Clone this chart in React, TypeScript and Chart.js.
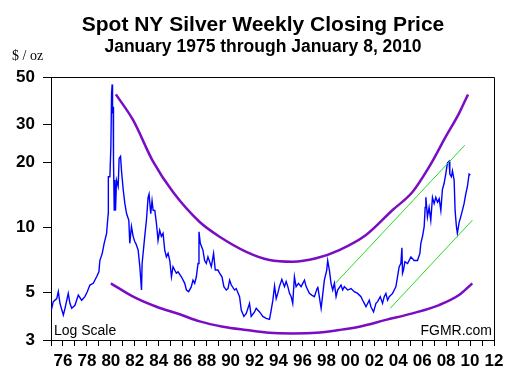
import { useEffect, useRef } from 'react';
import { Chart, registerables } from 'chart.js';
Chart.register(...registerables);

// Weekly closing price, decimal year / $ per oz
const years = [
  1975.03, 1975.19, 1975.48, 1975.61, 1975.75, 1976.03, 1976.17, 1976.44, 1976.58, 1976.73,
  1977.0, 1977.28, 1977.56, 1977.83, 1978.03, 1978.25, 1978.53, 1978.81, 1979.0, 1979.08,
  1979.28, 1979.44, 1979.64, 1979.73, 1979.78, 1979.79, 1979.92, 1980.0, 1980.06, 1980.11,
  1980.14, 1980.19, 1980.22, 1980.28, 1980.33, 1980.39, 1980.47, 1980.61, 1980.69, 1980.81,
  1980.89, 1981.03, 1981.17, 1981.31, 1981.5, 1981.58, 1981.72, 1981.86, 1982.0, 1982.08,
  1982.28, 1982.42, 1982.56, 1982.61, 1982.83, 1982.97, 1983.11, 1983.19, 1983.33, 1983.44,
  1983.53, 1983.67, 1983.81, 1983.94, 1984.08, 1984.22, 1984.36, 1984.5, 1984.64, 1984.78,
  1984.92, 1985.06, 1985.19, 1985.33, 1985.47, 1985.61, 1985.89, 1986.17, 1986.31, 1986.5,
  1986.72, 1986.86, 1987.0, 1987.14, 1987.28, 1987.36, 1987.47, 1987.69, 1987.83, 1987.97,
  1988.11, 1988.39, 1988.58, 1988.72, 1988.94, 1989.08, 1989.28, 1989.44, 1989.64, 1989.78,
  1989.92, 1990.06, 1990.33, 1990.47, 1990.75, 1990.89, 1991.11, 1991.31, 1991.58, 1991.72,
  1992.0, 1992.14, 1992.42, 1992.69, 1992.97, 1993.25, 1993.39, 1993.53, 1993.67, 1993.81,
  1993.94, 1994.08, 1994.28, 1994.5, 1994.64, 1994.78, 1994.92, 1995.06, 1995.19, 1995.33,
  1995.47, 1995.67, 1995.89, 1996.17, 1996.31, 1996.58, 1996.78, 1997.0, 1997.22, 1997.28,
  1997.56, 1997.69, 1997.83, 1998.03, 1998.11, 1998.25, 1998.39, 1998.53, 1998.67, 1998.81,
  1998.94, 1999.22, 1999.36, 1999.5, 1999.78, 2000.06, 2000.33, 2000.61, 2000.89, 2001.03,
  2001.17, 2001.31, 2001.58, 2001.72, 2001.94, 2002.14, 2002.28, 2002.5, 2002.69, 2002.83,
  2002.97, 2003.11, 2003.25, 2003.53, 2003.67, 2003.81, 2003.94, 2004.08, 2004.22, 2004.31,
  2004.36, 2004.44, 2004.56, 2004.78, 2005.06, 2005.33, 2005.61, 2005.81, 2005.89, 2006.03,
  2006.17, 2006.25, 2006.31, 2006.44, 2006.58, 2006.72, 2006.86, 2007.0, 2007.14, 2007.28,
  2007.42, 2007.56, 2007.69, 2007.83, 2007.97, 2008.11, 2008.25, 2008.31, 2008.44, 2008.53,
  2008.67, 2008.75, 2008.86, 2008.94, 2009.08, 2009.22, 2009.36, 2009.5, 2009.64, 2009.78,
  2009.92, 2010.02,
];
const prices = [
  4.13, 4.52, 4.67, 5.03, 4.44, 3.92, 4.21, 4.94, 4.44, 4.21,
  4.35, 4.85, 4.59, 4.77, 5.03, 5.40, 5.50, 5.90, 6.22, 7.02,
  7.58, 8.44, 9.35, 10.8, 11.6, 17.2, 17.2, 23.7, 42.0, 46.2,
  33.9, 36.4, 20.6, 12.05, 16.6, 12.0, 16.6, 15.5, 20.9, 21.4,
  18.3, 15.0, 12.9, 11.6, 10.8, 8.44, 10.1, 9.09, 8.58, 8.44,
  7.85, 6.57, 5.12, 6.8, 9.09, 10.8, 13.8, 14.3, 11.6, 13.3,
  12.0, 12.0, 10.4, 8.7, 9.7, 9.09, 9.4, 7.85, 7.3, 7.58,
  7.02, 5.9, 6.57, 6.34, 6.13, 6.22, 5.9, 5.5, 5.12, 5.03,
  5.31, 5.69, 5.5, 5.9, 6.8, 9.54, 8.44, 7.85, 7.02, 6.8,
  7.3, 6.57, 7.58, 6.34, 6.34, 6.13, 5.9, 5.31, 5.12, 5.2,
  5.69, 5.4, 5.12, 5.2, 4.77, 4.13, 3.86, 3.99, 4.44, 3.86,
  4.05, 4.21, 4.05, 3.86, 3.78, 3.74, 4.13, 4.59, 5.35, 4.67,
  4.94, 5.31, 5.74, 5.31, 5.61, 5.31, 4.94, 4.77, 4.44, 5.9,
  5.31, 5.5, 5.31, 5.69, 5.31, 4.94, 4.85, 4.77, 5.2, 5.31,
  4.21, 4.85, 5.69, 6.34, 7.02, 6.34, 5.5, 5.12, 5.5, 4.77,
  5.12, 5.4, 5.12, 5.31, 5.12, 5.2, 5.03, 4.94, 4.77, 4.59,
  4.44, 4.28, 4.59, 4.28, 4.05, 4.44, 4.52, 4.77, 4.44, 4.77,
  4.94, 4.59, 4.77, 4.94, 5.12, 5.31, 5.9, 6.57, 6.8, 8.04,
  6.13, 6.34, 6.93, 6.8, 7.3, 7.02, 7.02, 7.58, 8.44, 9.09,
  10.1, 12.4, 13.8, 11.2, 12.4, 10.8, 13.8, 12.9, 13.8, 13.1,
  13.6, 12.0, 15.0, 16.0, 17.7, 19.9, 20.3, 17.7, 17.2, 18.3,
  16.6, 12.0, 10.1, 9.4, 10.5, 11.2, 12.0, 12.9, 14.3, 15.5,
  17.7, 17.5,
];

// Upper and lower purple channel curves
const upperYears = [1980.42, 1981.86, 1983.53, 1985.19, 1987.42, 1989.08, 1991.31, 1993.25, 1995.19, 1997.14, 1999.08, 2001.31, 2003.53, 2005.19, 2006.58, 2007.97, 2009.08, 2009.83];
const upperVals = [41.5, 31.5, 20.2, 14.6, 10.6, 9.06, 7.71, 7.06, 6.93, 7.19, 7.85, 9.22, 12.05, 14.6, 19.1, 26.4, 33.9, 41.5];
const lowerYears = [1980.0, 1981.86, 1983.81, 1985.75, 1987.42, 1989.36, 1991.31, 1993.25, 1995.19, 1997.14, 1999.08, 2000.75, 2002.97, 2005.19, 2007.42, 2009.08, 2010.19];
const lowerVals = [5.5, 4.77, 4.28, 3.95, 3.66, 3.46, 3.34, 3.24, 3.22, 3.24, 3.34, 3.46, 3.72, 3.99, 4.36, 4.85, 5.5];

// Green trend channel lines
const greenUpYears = [1998.75, 2009.56];
const greenUpVals = [5.5, 24.1];
const greenLowYears = [2003.33, 2010.19];
const greenLowVals = [4.21, 10.8];

const yTicks = [3, 5, 10, 20, 30, 50];

const title = 'Spot NY Silver Weekly Closing Price';
const subtitle = 'January 1975 through January 8, 2010';

export default function App() {
  const ref = useRef<HTMLCanvasElement>(null);
  useEffect(() => {
    if (!ref.current) return;
    const pts = (xs: number[], ys: number[]) => xs.map((x, i) => ({ x, y: ys[i] }));
    const overlay = {
      id: 'overlay',
      afterDraw(chart: any) {
        const { ctx, chartArea: a } = chart;
        ctx.save();
        ctx.strokeStyle = '#000';
        ctx.lineWidth = 1;
        ctx.beginPath();
        ctx.moveTo(a.left, a.top + 0.5);
        ctx.lineTo(a.right + 0.5, a.top + 0.5);
        ctx.lineTo(a.right + 0.5, a.bottom);
        ctx.stroke();
        ctx.fillStyle = '#000';
        ctx.textAlign = 'center';
        ctx.textBaseline = 'alphabetic';
        ctx.font = 'bold 21px Arial, "Liberation Sans", sans-serif';
        ctx.fillText(title, 263, 31);
        ctx.font = 'bold 17.5px Arial, "Liberation Sans", sans-serif';
        ctx.fillText(subtitle, 263, 52);
        ctx.textAlign = 'left';
        ctx.font = '14px "Liberation Serif", serif';
        ctx.fillText('$ / oz', 12, 60);
        ctx.font = '14px Arial, "Liberation Sans", sans-serif';
        ctx.fillText('Log Scale', 54, 335);
        ctx.textAlign = 'right';
        ctx.fillText('FGMR.com', 492, 335);
        ctx.restore();
      },
    };
    const chart = new Chart(ref.current, {
      type: 'line',
      data: {
        datasets: [
          { data: pts(years, prices), borderColor: '#0000ff', borderWidth: 1.4, pointRadius: 0, tension: 0, order: 3 },
          { data: pts(upperYears, upperVals), borderColor: '#7a0dc4', borderWidth: 2.5, pointRadius: 0, cubicInterpolationMode: 'monotone', order: 1 },
          { data: pts(lowerYears, lowerVals), borderColor: '#7a0dc4', borderWidth: 2.5, pointRadius: 0, cubicInterpolationMode: 'monotone', order: 1 },
          { data: pts(greenUpYears, greenUpVals), borderColor: '#22dd22', borderWidth: 1, pointRadius: 0, order: 2 },
          { data: pts(greenLowYears, greenLowVals), borderColor: '#22dd22', borderWidth: 1, pointRadius: 0, order: 2 },
        ] as any,
      },
      options: {
        animation: false,
        responsive: false,
        layout: { padding: { top: 77, right: 35, left: 0, bottom: 0 } },
        plugins: { legend: { display: false }, tooltip: { enabled: false }, title: { display: false } },
        scales: {
          x: {
            type: 'linear',
            min: 1975,
            max: 2012,
            afterFit(s: any) { s.height = 39; },
            ticks: {
              stepSize: 1,
              autoSkip: false,
              maxRotation: 0,
              minRotation: 0,
              padding: 5,
              color: '#000',
              font: { family: 'Arial, "Liberation Sans", sans-serif', size: 17, weight: 'bold' },
              callback: (v: any) => (Number(v) % 2 === 0 ? String(Number(v) % 100).padStart(2, '0') : ''),
            },
            grid: { drawOnChartArea: false, tickLength: 6, color: '#000' },
            border: { color: '#000' },
          },
          y: {
            type: 'logarithmic',
            min: 3,
            max: 50,
            afterFit(s: any) { s.width = 51; },
            afterBuildTicks(s: any) { s.ticks = yTicks.map((v) => ({ value: v })); },
            ticks: {
              padding: 8,
              color: '#000',
              font: { family: 'Arial, "Liberation Sans", sans-serif', size: 17, weight: 'bold' },
              callback: (v: any) => String(v),
            },
            grid: { drawOnChartArea: false, tickLength: 8, color: '#000' },
            border: { color: '#000' },
          },
        },
      } as any,
      plugins: [overlay],
    });
    return () => chart.destroy();
  }, []);
  return (
    <div style={{ position: 'fixed', left: 0, top: 0, width: 529, height: 379, background: '#fff' }}>
      <canvas ref={ref} width={529} height={379} style={{ display: 'block' }} />
    </div>
  );
}
